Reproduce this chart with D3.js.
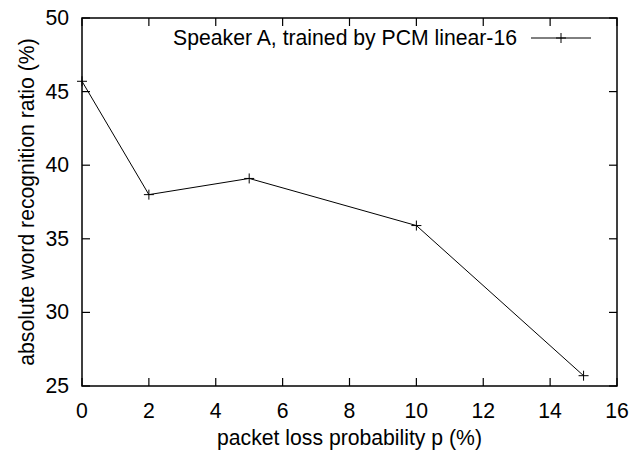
<!DOCTYPE html>
<html>
<head>
<meta charset="utf-8">
<script src="https://cdn.jsdelivr.net/npm/d3@7"></script>
<style>
  body { margin: 0; background: #fff; }
  text { font-family: "Liberation Sans", Arial, sans-serif; font-size: 21.2px; fill: #000; }
</style>
</head>
<body>
<svg id="chart" width="631" height="451"></svg>
<script>
// packet loss probability p (%) vs. recognition ratio (%)
var loss_p = [0, 2, 5, 10, 15];
var ratio = [45.7, 38.0, 39.1, 35.9, 25.7];
var x_ticks = [0, 2, 4, 6, 8, 10, 12, 14, 16];
var y_ticks = [25, 30, 35, 40, 45, 50];
var series_name = "Speaker A, trained by PCM linear-16";

var svg = d3.select("#chart");
var m_left = 82, m_right = 617, m_top = 18, m_bottom = 386;

var x = d3.scaleLinear().domain([0, 16]).range([m_left, m_right]);
var y = d3.scaleLinear().domain([25, 50]).range([m_bottom, m_top]);
var tick_len = 8;

// ticks, mirrored on all four sides like gnuplot
var g = svg.append("g").attr("stroke", "#000").attr("stroke-width", 1.2);
x_ticks.forEach(function(t) {
  g.append("line").attr("x1", x(t)).attr("x2", x(t)).attr("y1", m_bottom).attr("y2", m_bottom - tick_len);
  g.append("line").attr("x1", x(t)).attr("x2", x(t)).attr("y1", m_top).attr("y2", m_top + tick_len);
});
y_ticks.forEach(function(t) {
  g.append("line").attr("x1", m_left).attr("x2", m_left + tick_len).attr("y1", y(t)).attr("y2", y(t));
  g.append("line").attr("x1", m_right).attr("x2", m_right - tick_len).attr("y1", y(t)).attr("y2", y(t));
});

svg.selectAll("text.xt")
  .data(x_ticks)
  .enter()
  .append("text")
    .attr("x", function(d) { return x(d); })
    .attr("y", 418)
    .attr("text-anchor", "middle")
    .text(function(d) { return d; });

svg.selectAll("text.yt")
  .data(y_ticks)
  .enter()
  .append("text")
    .attr("x", 69)
    .attr("y", function(d) { return y(d) + 7; })
    .attr("text-anchor", "end")
    .text(function(d) { return d; });

// frame
svg.append("rect")
  .attr("x", m_left).attr("y", m_top)
  .attr("width", m_right - m_left).attr("height", m_bottom - m_top)
  .attr("fill", "none").attr("stroke", "#000").attr("stroke-width", 1.5);

// data line
var line = d3.line()
  .x(function(d, i) { return x(loss_p[i]); })
  .y(function(d) { return y(d); });

svg.append("path")
  .datum(ratio)
  .attr("d", line)
  .attr("fill", "none")
  .attr("stroke", "#000")
  .attr("stroke-width", 1);

function plus(sel, cx, cy) {
  sel.append("path")
    .attr("d", "M" + (cx - 5) + "," + cy + "H" + (cx + 5) + "M" + cx + "," + (cy - 5) + "V" + (cy + 5))
    .attr("stroke", "#000")
    .attr("stroke-width", 1);
}
ratio.forEach(function(d, i) { plus(svg, x(loss_p[i]), y(d)); });

// legend
svg.append("text")
  .attr("x", 517).attr("y", 45)
  .attr("text-anchor", "end")
  .text(series_name);
svg.append("line")
  .attr("x1", 531).attr("x2", 591).attr("y1", 38).attr("y2", 38)
  .attr("stroke", "#000").attr("stroke-width", 1);
plus(svg, 561, 38);

// axis labels
svg.append("text")
  .attr("x", (m_left + m_right) / 2).attr("y", 445)
  .attr("text-anchor", "middle")
  .text("packet loss probability p (%)");

svg.append("text")
  .attr("transform", "translate(34," + ((m_top + m_bottom) / 2) + ") rotate(-90)")
  .attr("text-anchor", "middle")
  .text("absolute word recognition ratio (%)");
</script>
</body>
</html>
